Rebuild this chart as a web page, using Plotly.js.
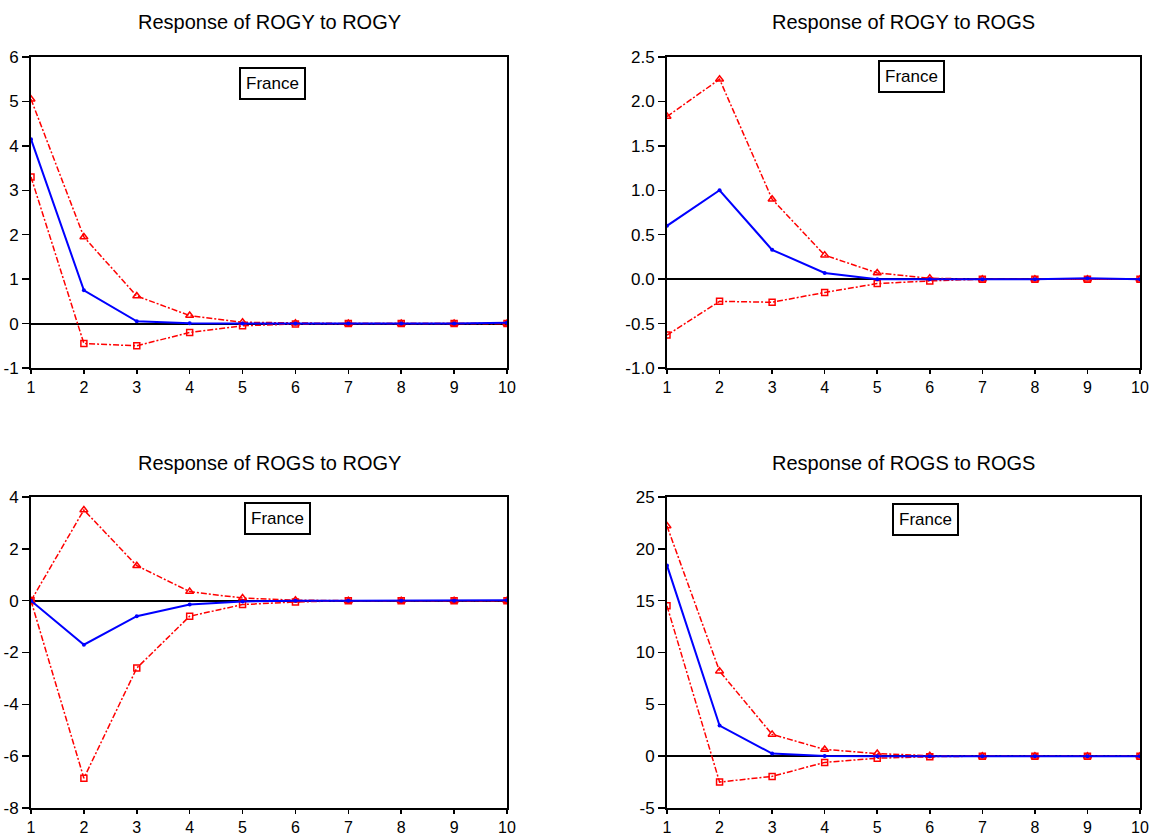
<!DOCTYPE html>
<html><head><meta charset="utf-8">
<script src="https://cdn.plot.ly/plotly-3.0.1.min.js"></script>
<style>body{margin:0;background:#fff}#c{width:1158px;height:838px}</style>
</head><body><div id="c"></div>
<script>
const periods = [1,2,3,4,5,6,7,8,9,10];
const titles = ["Response of ROGY to ROGY","Response of ROGY to ROGS","Response of ROGS to ROGY","Response of ROGS to ROGS"];
const legendLabel = "France";

const ryy_mid = [4.15, 0.75, 0.05, 0.01, 0.0, 0.0, 0.0, 0.0, 0.0, 0.02];
const ryy_up  = [5.05, 1.95, 0.62, 0.18, 0.03, 0.01, 0.0, 0.0, 0.0, 0.0];
const ryy_lo  = [3.3, -0.45, -0.5, -0.2, -0.05, -0.01, 0.0, 0.0, 0.0, 0.0];

const rys_mid = [0.6, 1.0, 0.33, 0.07, 0.0, 0.0, 0.0, 0.0, 0.01, 0.0];
const rys_up  = [1.83, 2.25, 0.9, 0.27, 0.07, 0.01, 0.0, 0.0, 0.0, 0.0];
const rys_lo  = [-0.63, -0.25, -0.26, -0.15, -0.05, -0.02, 0.0, 0.0, 0.0, 0.0];

const rsy_mid = [0.0, -1.7, -0.6, -0.15, -0.03, 0.0, 0.0, 0.0, 0.0, 0.02];
const rsy_up  = [0.0, 3.5, 1.35, 0.35, 0.1, 0.02, 0.0, 0.0, 0.0, 0.0];
const rsy_lo  = [0.0, -6.85, -2.6, -0.6, -0.15, -0.05, 0.0, 0.0, 0.0, 0.0];

const rss_mid = [18.4, 2.95, 0.25, 0.02, 0.0, 0.0, 0.0, 0.0, 0.0, 0.0];
const rss_up  = [22.2, 8.2, 2.1, 0.65, 0.25, 0.05, 0.0, 0.0, 0.0, 0.0];
const rss_lo  = [14.5, -2.5, -1.95, -0.6, -0.2, -0.05, 0.0, 0.0, 0.0, 0.0];

const yticks_ryy = [-1, 0, 1, 2, 3, 4, 5, 6];
const yticks_rys = [-1.0, -0.5, 0.0, 0.5, 1.0, 1.5, 2.0, 2.5];
const yticks_rsy = [-8, -6, -4, -2, 0, 2, 4];
const yticks_rss = [-5, 0, 5, 10, 15, 20, 25];

const panels = [
  {mid: ryy_mid, up: ryy_up, lo: ryy_lo, ticks: yticks_ryy, dec:0},
  {mid: rys_mid, up: rys_up, lo: rys_lo, ticks: yticks_rys, dec:1},
  {mid: rsy_mid, up: rsy_up, lo: rsy_lo, ticks: yticks_rsy, dec:0},
  {mid: rss_mid, up: rss_up, lo: rss_lo, ticks: yticks_rss, dec:0}
];

const W=1158, H=838;
const xdoms = [[31/W, 507/W],[667/W, 1140/W],[31/W, 507/W],[667/W, 1140/W]];
const ydoms = [[(H-368)/H, (H-57)/H],[(H-368)/H, (H-57)/H],[(H-808)/H, (H-497)/H],[(H-808)/H, (H-497)/H]];
const legendPos = [[272,83],[911,77],[277,518],[925,519]];
const titleY = [22, 22, 463, 463];

const traces = [];
const layout = {width:W, height:H, margin:{l:0,r:0,t:0,b:0}, showlegend:false,
  paper_bgcolor:'#fff', plot_bgcolor:'#fff', font:{family:'"Liberation Sans", Arial, sans-serif', color:'#000', size:16},
  annotations:[], shapes:[]};

panels.forEach((p,i)=>{
  const n = i+1;
  const xa = 'x'+(n===1?'':n), ya = 'y'+(n===1?'':n);
  const red = {color:'#ff0000', width:1.5, dash:'6px,2px,2px,2px'};
  traces.push({x:periods, y:p.up, xaxis:xa, yaxis:ya, mode:'lines+markers', line:red,
    marker:{symbol:'triangle-up-open', size:7, color:'#ff0000', line:{width:1.5}}});
  traces.push({x:periods, y:p.lo, xaxis:xa, yaxis:ya, mode:'lines+markers', line:red,
    marker:{symbol:'square-open', size:6, color:'#ff0000', line:{width:1.5}}});
  traces.push({x:periods, y:p.mid, xaxis:xa, yaxis:ya, mode:'lines+markers',
    line:{color:'#0000ff', width:2}, marker:{symbol:'circle', size:4, color:'#0000ff'}});
  const axX = {domain:xdoms[i], range:[1,10], anchor:ya, tickvals:periods, ticktext:periods.map(String),
    ticks:'outside', ticklen:4, tickwidth:1.5, tickcolor:'#000', showline:true, linecolor:'#000', linewidth:2,
    mirror:true, showgrid:false, zeroline:false, tickfont:{size:16}};
  const axY = {domain:ydoms[i], range:[p.ticks[0], p.ticks[p.ticks.length-1]], anchor:xa,
    tickvals:p.ticks, ticktext:p.ticks.map(v=>v.toFixed(p.dec)),
    ticks:'outside', ticklen:7, tickwidth:1.5, tickcolor:'#000', showline:true, linecolor:'#000', linewidth:2,
    mirror:true, showgrid:false, zeroline:true, zerolinecolor:'#000', zerolinewidth:2, tickfont:{size:17}};
  layout['xaxis'+(n===1?'':n)] = axX;
  layout['yaxis'+(n===1?'':n)] = axY;
  const cx = (xdoms[i][0]+xdoms[i][1])/2*W;
  layout.annotations.push({text:titles[i], xref:'paper', yref:'paper', x:cx/W, y:(H-titleY[i])/H,
    xanchor:'center', yanchor:'middle', showarrow:false, font:{size:20}});
  layout.annotations.push({text:legendLabel, xref:'paper', yref:'paper', x:legendPos[i][0]/W, y:(H-legendPos[i][1])/H,
    xanchor:'center', yanchor:'middle', showarrow:false, font:{size:17}, bordercolor:'#000', borderwidth:2,
    borderpad:5, bgcolor:'#fff'});
});

Plotly.newPlot('c', traces, layout, {staticPlot:true});
</script></body></html>
